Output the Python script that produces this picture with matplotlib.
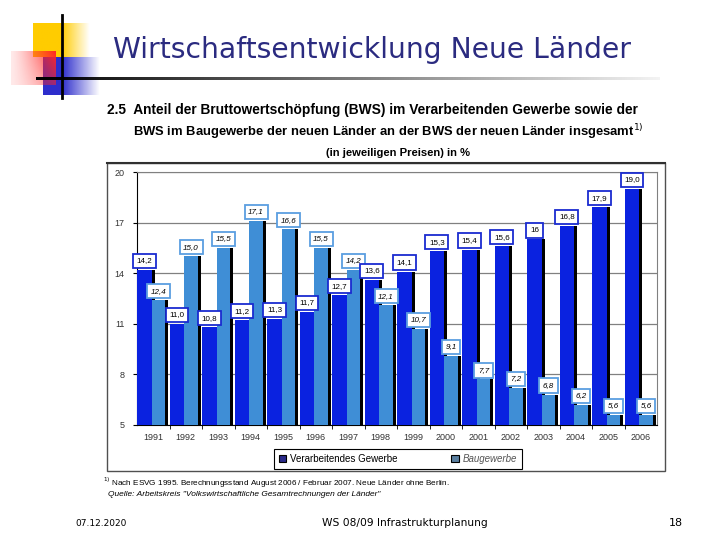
"""Slide: BWS share of manufacturing and construction, new German Länder 1991-2006."""

import matplotlib
matplotlib.use('Agg')
import matplotlib.pyplot as plt
import numpy as np
from matplotlib.patches import Rectangle, Patch

# Data
years = ["1991", "1992", "1993", "1994", "1995", "1996", "1997", "1998",
         "1999", "2000", "2001", "2002", "2003", "2004", "2005", "2006"]
verarbeitend = [14.2, 11.0, 10.8, 11.2, 11.3, 11.7, 12.7, 13.6,
                14.1, 15.3, 15.4, 15.6, 16.0, 16.8, 17.9, 19.0]
verarbeitend_lbl = ["14,2", "11,0", "10,8", "11,2", "11,3", "11,7", "12,7", "13,6",
                    "14,1", "15,3", "15,4", "15,6", "16", "16,8", "17,9", "19,0"]
bau = [12.4, 15.0, 15.5, 17.1, 16.6, 15.5, 14.2, 12.1,
       10.7, 9.1, 7.7, 7.2, 6.8, 6.2, 5.6, 5.6]
bau_lbl = ["12,4", "15,0", "15,5", "17,1", "16,6", "15,5", "14,2", "12,1",
           "10,7", "9,1", "7,7", "7,2", "6,8", "6,2", "5,6", "5,6"]
yticks = [5, 8, 11, 14, 17, 20]

dark = '#0a22e0'
light = '#3f8ed6'

W, H = 720, 540
fig = plt.figure(figsize=(7.2, 5.4), dpi=100)

# background layer in pixel coordinates for slide decoration
bg = fig.add_axes([0, 0, 1, 1])
bg.set_xlim(0, W)
bg.set_ylim(H, 0)
bg.axis('off')


def fade(rgb, n=100, solid=0.5):
    # horizontal strip: solid colour on the left part, fading out to the right
    t = np.linspace(0, 1, n)
    a = np.clip(1 - (t - solid) / (1 - solid), 0, 1)
    img = np.zeros((1, n, 4))
    img[..., :3] = rgb
    img[..., 3] = a
    return img


bg.imshow(fade((1.0, 0.8, 0.0), solid=0.5), extent=(33, 90, 57, 23), aspect='auto', zorder=1)
bg.imshow(fade((0.18, 0.18, 0.8), solid=0.33), extent=(43, 100, 95, 57), aspect='auto', zorder=2)

# red square, strongest at the top right
xx, yy = np.meshgrid(np.linspace(0, 1, 50), np.linspace(0, 1, 50))
red = np.zeros((50, 50, 4))
red[..., 0] = 1.0
red[..., 1] = 0.15
red[..., 2] = 0.15
red[..., 3] = np.clip(0.1 + 0.9 * xx ** 1.3 * (1 - 0.5 * yy), 0, 1)
bg.imshow(red, extent=(11, 56, 85, 51), aspect='auto', zorder=3)

# black cross lines
bg.plot([62, 62], [15, 98], color='black', lw=2, zorder=5)
strip = np.zeros((1, 300, 4))
strip[..., 3] = np.linspace(1, 0.05, 300)
bg.imshow(strip, extent=(36, 660, 80.5, 77.5), aspect='auto', zorder=4)

bg.text(113, 50, "Wirtschaftsentwicklung Neue Länder", fontsize=20.3,
        color='#2b2b80', family='DejaVu Sans', va='center', ha='left')

# chart header
bg.text(107, 110, "2.5  Anteil der Bruttowertschöpfung (BWS) im Verarbeitenden Gewerbe sowie der",
        fontsize=9.9, fontweight='bold', family='Liberation Sans', va='center')
bg.text(388, 132, "BWS im Baugewerbe der neuen Länder an der BWS der neuen Länder insgesamt$^{1)}$",
        fontsize=9.35, fontweight='bold', family='Liberation Sans', va='center', ha='center')
bg.text(398, 153, "(in jeweiligen Preisen) in %", fontsize=8.1, fontweight='bold',
        family='Liberation Sans', va='center', ha='center')
bg.plot([107, 665], [163, 163], color='#303030', lw=1.5)
bg.add_patch(Rectangle((107, 163), 558, 308, fill=False, ec='#505050', lw=1))

# footnotes
bg.text(103, 483, "$^{1)}$ Nach ESVG 1995. Berechnungsstand August 2006 / Februar 2007. Neue Länder ohne Berlin.",
        fontsize=5.9, family='Liberation Sans', va='center')
bg.text(108, 495, "Quelle: Arbeitskreis \"Volkswirtschaftliche Gesamtrechnungen der Länder\"",
        fontsize=6.0, style='italic', family='Liberation Sans', va='center')

# slide footer
bg.text(75, 523, "07.12.2020", fontsize=6.5, family='DejaVu Sans', va='center')
bg.text(405, 523, "WS 08/09 Infrastrukturplanung", fontsize=7.7, family='DejaVu Sans',
        va='center', ha='center')
bg.text(676, 523, "18", fontsize=8, family='DejaVu Sans', va='center', ha='center')

# the bar chart
ax = fig.add_axes([137 / W, 1 - 425 / H, 520 / W, 253 / H])
x = np.arange(len(years))
bw = 0.46
bw2 = 0.41
sh = 0.09

ax.bar(x - 0.5 + sh, np.array(verarbeitend) - 5, bw, bottom=5, align='edge',
       color='black', zorder=2)
ax.bar(x - 0.5, np.array(verarbeitend) - 5, bw, bottom=5, align='edge',
       color=dark, zorder=3)
ax.bar(x - 0.04 + sh, np.array(bau) - 5, bw2, bottom=5, align='edge',
       color='black', zorder=4)
ax.bar(x - 0.04, np.array(bau) - 5, bw2, bottom=5, align='edge',
       color=light, zorder=5)

for i in range(len(years)):
    ax.annotate(verarbeitend_lbl[i], (x[i] - 0.5 + bw / 2, verarbeitend[i]),
                xytext=(0, 4), textcoords='offset points', ha='center', va='bottom',
                fontsize=5.8, family='Liberation Sans', zorder=10,
                bbox=dict(boxstyle='square,pad=0.45', fc='white', ec='#1a2bd0', lw=1.3))
    ax.annotate(bau_lbl[i], (x[i] - 0.04 + bw2 / 2, bau[i]),
                xytext=(0, 4), textcoords='offset points', ha='center', va='bottom',
                fontsize=5.8, style='italic', family='Liberation Sans', zorder=10,
                bbox=dict(boxstyle='square,pad=0.45', fc='white', ec='#5a9ee0', lw=1.3))

ax.set_xlim(-0.5, 15.5)
ax.set_ylim(5, 20)
ax.set_yticks(yticks)
ax.set_yticklabels([str(t) for t in yticks], fontsize=6.5, family='Liberation Sans',
                   color='#333333')
ax.set_xticks(x)
ax.set_xticklabels(years, fontsize=6.5, family='Liberation Sans', color='#333333')
ax.set_xticks(x[:-1] + 0.5, minor=True)
ax.tick_params(axis='x', which='major', length=0, pad=6)
ax.tick_params(axis='x', which='minor', length=3, direction='out', color='black')
ax.tick_params(axis='y', length=3, direction='out', color='black', pad=6)
ax.grid(axis='y', color='#808080', lw=0.9, zorder=0)
for s in ['top', 'right']:
    ax.spines[s].set_color('#808080')
ax.spines['left'].set_color('black')
ax.spines['bottom'].set_color('black')

handles = [Patch(fc='#2a2a8a', ec='black', lw=0.8), Patch(fc='#5a7fa0', ec='black', lw=0.8)]
leg = fig.legend(handles, ["Verarbeitendes Gewerbe", "Baugewerbe"], ncol=2,
                 loc='center', bbox_to_anchor=(398 / W, 1 - 459 / H),
                 fancybox=False, edgecolor='black', framealpha=1,
                 prop={'family': 'Liberation Sans', 'size': 7},
                 handlelength=0.8, handleheight=0.8, handletextpad=0.4,
                 columnspacing=5.5, borderpad=0.5, borderaxespad=0)
leg.get_frame().set_linewidth(0.8)
leg.get_texts()[1].set_style('italic')
leg.get_texts()[1].set_color('#555555')

plt.savefig("out.png", dpi=100)
